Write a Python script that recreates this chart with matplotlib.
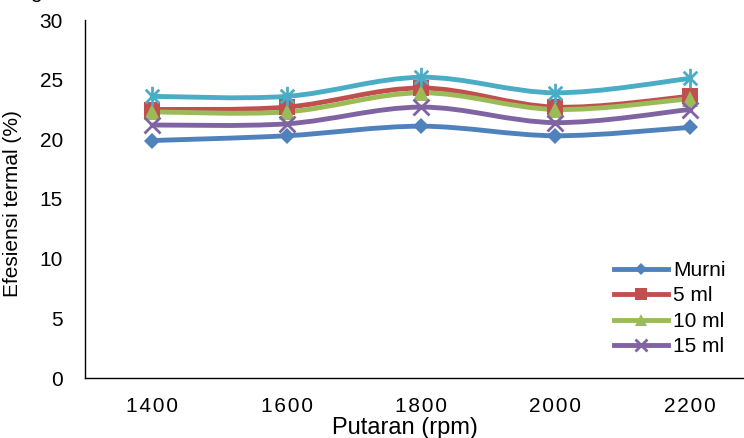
"""Efesiensi termal vs putaran, Excel-style smoothed lines."""

import matplotlib
matplotlib.use("Agg")
import matplotlib.pyplot as plt
from matplotlib.path import Path
from matplotlib.patches import PathPatch
from matplotlib.lines import Line2D

plt.rcParams["font.family"] = ["Liberation Sans", "DejaVu Sans"]

# Data

rpm = ["1400", "1600", "1800", "2000", "2200"]
murni = [19.9, 20.3, 21.1, 20.3, 21.0]
ml5 = [22.5, 22.7, 24.3, 22.7, 23.6]
ml10 = [22.3, 22.3, 23.9, 22.5, 23.4]
ml15 = [21.2, 21.3, 22.7, 21.4, 22.5]
ml20 = [23.6, 23.6, 25.2, 23.9, 25.1]
labels = ["Murni", "5 ml", "10 ml", "15 ml", "20 ml"]

# Graphical parameters

asterisk = Path(
    [(0, -1), (0, 1), (-0.7, -0.7), (0.7, 0.7), (-0.7, 0.7), (0.7, -0.7)],
    [Path.MOVETO, Path.LINETO] * 3,
)
styles = [
    dict(color="#4F81BD", marker="D", ms=8.5, mew=0),
    dict(color="#C0504D", marker="s", ms=11, mew=0),
    dict(color="#9BBB59", marker="^", ms=12, mew=0),
    dict(color="#8064A2", marker="x", ms=11, mew=2),
    dict(color="#4BACC6", marker=asterisk, ms=14, mew=2),
]


def smooth_path(xs, ys):
    """Catmull-Rom style Bezier path through the points (like Excel)."""
    pts = list(zip(xs, ys))
    verts = [pts[0]]
    codes = [Path.MOVETO]
    n = len(pts)
    for i in range(n - 1):
        p0 = pts[max(i - 1, 0)]
        p1 = pts[i]
        p2 = pts[i + 1]
        p3 = pts[min(i + 2, n - 1)]
        c1 = (p1[0] + (p2[0] - p0[0]) / 6, p1[1] + (p2[1] - p0[1]) / 6)
        c2 = (p2[0] - (p3[0] - p1[0]) / 6, p2[1] - (p3[1] - p1[1]) / 6)
        verts += [c1, c2, p2]
        codes += [Path.CURVE4] * 3
    return Path(verts, codes)


fig = plt.figure(figsize=(7.44, 4.38), dpi=100)
ax = fig.add_axes([85 / 744, 60 / 438, 672 / 744, 358 / 438])

x = list(range(len(rpm)))
handles = []
for series, label, st in zip([murni, ml5, ml10, ml15, ml20], labels, styles):
    ax.add_patch(
        PathPatch(
            smooth_path(x, series),
            facecolor="none",
            edgecolor=st["color"],
            lw=3.5,
            capstyle="round",
            joinstyle="round",
        )
    )
    ax.plot(
        x,
        series,
        ls="none",
        marker=st["marker"],
        ms=st["ms"],
        color=st["color"],
        mec=st["color"],
        mew=st["mew"],
    )
    handles.append(
        Line2D(
            [],
            [],
            color=st["color"],
            lw=3.5,
            marker=st["marker"],
            ms=st["ms"] * 0.75,
            mec=st["color"],
            mew=st["mew"],
            label=label,
        )
    )

ax.set_xlim(-0.5, len(rpm) - 0.5)
ax.set_ylim(0, 30)
ax.set_yticks(range(0, 31, 5))
ax.set_xticks(x)
ax.set_xticklabels(["\u200a".join(r) for r in rpm])
ax.tick_params(axis="both", length=0, labelsize=15)
ax.tick_params(axis="y", pad=16)
ax.tick_params(axis="x", pad=14)

for side in ("top", "right"):
    ax.spines[side].set_visible(False)
for side in ("left", "bottom"):
    ax.spines[side].set_linewidth(1.0)
    ax.spines[side].set_color("black")

ax.set_xlabel("Putaran (rpm)", fontsize=17)
ax.xaxis.set_label_coords((405 - 85) / 672, -0.108)
ax.set_ylabel("Efesiensi termal (%)", fontsize=15)
ax.yaxis.set_label_coords(-(85 - 22) / 672, (378 - 204) / 358)

ax.legend(
    handles=handles[:4],
    loc="upper left",
    bbox_to_anchor=(614 / 744, (438 - 261) / 438),
    bbox_transform=fig.transFigure,
    frameon=False,
    fontsize=15,
    handlelength=2.6,
    handletextpad=0.25,
    labelspacing=0.31,
    borderpad=0,
    borderaxespad=0,
)

fig.text(36 / 744, 1 + 2 / 438, "g", fontsize=15, ha="center", va="baseline")

fig.savefig("out.png", dpi=100)
